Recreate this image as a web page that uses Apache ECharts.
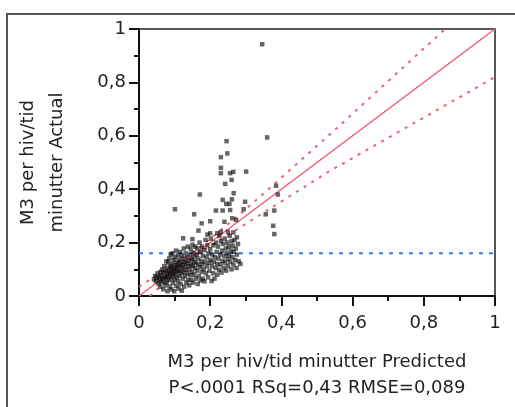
<!DOCTYPE html>
<html>
<head>
<meta charset="utf-8">
<script src="https://cdn.jsdelivr.net/npm/echarts@6/dist/echarts.min.js"></script>
<style>html,body{margin:0;padding:0;background:#fff;}#c{width:515px;height:407px;}</style>
</head>
<body>
<div id="c"></div>
<script>
// Axis ticks
var xTicks = [0, 0.2, 0.4, 0.6, 0.8, 1];
var yTicks = [0, 0.2, 0.4, 0.6, 0.8, 1];

// Actual vs Predicted points [predicted, actual]
var sparsePoints = [
  [0.346,0.943],[0.36,0.594],[0.246,0.58],[0.248,0.534],[0.23,0.52],[0.23,0.48],[0.23,0.46],
  [0.256,0.46],[0.265,0.465],[0.301,0.466],[0.242,0.42],[0.26,0.435],[0.385,0.413],[0.39,0.38],
  [0.171,0.38],[0.266,0.385],[0.235,0.36],[0.261,0.362],[0.298,0.353],[0.245,0.345],[0.254,0.345],
  [0.101,0.325],[0.216,0.32],[0.235,0.32],[0.256,0.322],[0.294,0.325],[0.38,0.32],[0.155,0.306],
  [0.356,0.306],[0.262,0.291],[0.273,0.285],[0.377,0.263],[0.38,0.232],[0.2,0.28],[0.24,0.278],
  [0.176,0.272],[0.167,0.245],[0.124,0.216],[0.192,0.23],[0.2,0.235],[0.23,0.24],[0.25,0.24],
  [0.265,0.238],[0.22,0.235],[0.15,0.213]
];
var clusterPoints = [
  [0.042,0.062],[0.045,0.075],[0.048,0.055],[0.05,0.068],[0.052,0.085],[0.055,0.045],[0.057,0.072],[0.058,0.06],[0.06,0.09],[0.06,0.035],
  [0.062,0.078],[0.063,0.052],[0.065,0.1],[0.066,0.066],[0.068,0.025],[0.069,0.088],[0.07,0.058],[0.071,0.112],[0.072,0.075],[0.074,0.04],[0.075,0.095],[0.076,0.068],[0.077,0.13],[0.078,0.05],[0.079,0.085],[0.08,0.018],[0.08,0.105],
  [0.081,0.072],[0.082,0.125],[0.083,0.06],[0.084,0.092],[0.085,0.14],[0.086,0.035],[0.087,0.08],[0.088,0.11],[0.089,0.155],[0.09,0.065],[0.09,0.098],[0.091,0.025],[0.092,0.12],[0.093,0.085],[0.094,0.16],[0.095,0.048],[0.095,0.105],[0.096,0.075],[0.097,0.135],[0.098,0.092],[0.099,0.018],[0.1,0.115],[0.1,0.06],
  [0.101,0.145],[0.102,0.082],[0.103,0.1],[0.104,0.17],[0.105,0.038],[0.105,0.125],[0.106,0.07],[0.107,0.108],[0.108,0.09],[0.109,0.152],[0.11,0.055],[0.11,0.118],[0.111,0.028],[0.112,0.135],[0.113,0.095],[0.114,0.075],[0.115,0.165],[0.116,0.112],[0.117,0.045],[0.118,0.128],[0.119,0.085],[0.12,0.15],[0.12,0.02],[0.12,0.102],
  [0.122,0.118],[0.123,0.065],[0.124,0.14],[0.125,0.09],[0.126,0.178],[0.127,0.035],[0.128,0.108],[0.129,0.128],[0.13,0.075],[0.131,0.16],[0.132,0.098],[0.133,0.05],[0.134,0.122],[0.135,0.145],[0.136,0.085],[0.137,0.185],[0.138,0.06],[0.139,0.112],[0.14,0.132],
  [0.141,0.04],[0.142,0.1],[0.143,0.155],[0.144,0.078],[0.145,0.175],[0.146,0.118],[0.147,0.06],[0.148,0.138],[0.149,0.09],[0.15,0.192],[0.151,0.112],[0.152,0.05],[0.153,0.162],[0.154,0.128],[0.155,0.08],[0.156,0.145],[0.157,0.105],[0.158,0.185],[0.16,0.065],[0.16,0.125],
  [0.162,0.155],[0.163,0.095],[0.164,0.178],[0.165,0.045],[0.166,0.118],[0.167,0.14],[0.168,0.075],[0.17,0.2],[0.171,0.108],[0.172,0.165],[0.173,0.058],[0.175,0.13],[0.176,0.09],[0.177,0.185],[0.178,0.118],[0.179,0.065],[0.18,0.15],
  [0.182,0.1],[0.183,0.172],[0.184,0.055],[0.185,0.128],[0.187,0.21],[0.188,0.085],[0.19,0.145],[0.191,0.112],[0.192,0.19],[0.194,0.07],[0.195,0.16],[0.197,0.125],[0.198,0.095],[0.2,0.175],
  [0.201,0.135],[0.202,0.215],[0.204,0.056],[0.205,0.112],[0.206,0.155],[0.208,0.085],[0.209,0.19],[0.21,0.128],[0.212,0.065],[0.213,0.145],[0.215,0.105],[0.216,0.2],[0.218,0.165],[0.22,0.12],[0.22,0.08],
  [0.222,0.185],[0.223,0.14],[0.225,0.098],[0.226,0.225],[0.228,0.155],[0.229,0.118],[0.23,0.205],[0.232,0.088],[0.233,0.17],[0.235,0.132],[0.236,0.195],[0.238,0.105],[0.24,0.15],
  [0.241,0.215],[0.242,0.125],[0.244,0.178],[0.245,0.095],[0.246,0.16],[0.248,0.2],[0.249,0.138],[0.25,0.112],[0.252,0.185],[0.253,0.152],[0.255,0.225],[0.256,0.128],[0.258,0.17],[0.26,0.1],[0.26,0.205],
  [0.262,0.145],[0.263,0.188],[0.265,0.118],[0.266,0.165],[0.268,0.21],[0.27,0.135],[0.272,0.178],[0.274,0.105],[0.275,0.155],[0.278,0.195],[0.28,0.13],[0.285,0.12],[0.275,0.22]
];

// Fit line (Actual = Predicted), confidence curves, mean line
var fitLine = [[0,0],[1,1]];
var upperConf = [[0,0.035],[0.165,0.175],[0.3,0.325],[0.532,0.6],[0.86,1.0]];
var lowerConf = [[0.03,0],[0.165,0.158],[0.3,0.27],[0.532,0.465],[1,0.82]];
var meanLine = [[0,0.16],[1,0.16]];

var xTitle = 'M3 per hiv/tid minutter Predicted\nP<.0001 RSq=0,43 RMSE=0,089';
var yTitle = 'M3 per hiv/tid\nminutter Actual';

var FONT = 'DejaVu Sans';
function fmt(v){ return String(Math.round(v*10)/10).replace('.', ','); }

var chart = echarts.init(document.getElementById('c'), null, {renderer:'canvas'});
var axisCommon = {
  type:'value', min:0, max:1, interval:0.2,
  splitLine:{show:false},
  axisLine:{show:true, lineStyle:{color:'#111', width:2}},
  axisTick:{show:true, inside:false, length:10, lineStyle:{color:'#111', width:2}},
  minorTick:{show:true, splitNumber:2, length:5, lineStyle:{color:'#111', width:2}},
  minorSplitLine:{show:false}
};
chart.setOption({
  animation:false,
  backgroundColor:'#fff',
  graphic:[{type:'rect', shape:{x:7,y:14,width:600,height:500}, style:{fill:'none', stroke:'#555', lineWidth:2}, z:0}],
  grid:{left:139, right:20, top:29, bottom:111, show:true, borderColor:'#222', borderWidth:1.5, backgroundColor:'transparent'},
  xAxis:Object.assign({}, axisCommon, {
    axisLabel:{fontFamily:FONT, fontSize:18, color:'#222', margin:18,
      formatter:function(v){ return xTicks.indexOf(Math.round(v*10)/10) >= 0 ? fmt(v) : ''; }},
    name:xTitle, nameLocation:'middle', nameGap:53,
    nameTextStyle:{fontFamily:FONT, fontSize:18, color:'#222', lineHeight:26, verticalAlign:'top'}
  }),
  yAxis:Object.assign({}, axisCommon, {
    axisLabel:{fontFamily:FONT, fontSize:18, color:'#222', margin:13,
      formatter:function(v){ return yTicks.indexOf(Math.round(v*10)/10) >= 0 ? fmt(v) : ''; }},
    name:yTitle, nameLocation:'middle', nameGap:67,
    nameTextStyle:{fontFamily:FONT, fontSize:18, color:'#222', lineHeight:29}
  }),
  series:[
    {type:'line', data:meanLine, showSymbol:false, silent:true, clip:true,
      lineStyle:{color:'#3f74e8', width:2, type:[4,6]}, z:2},
    {type:'line', data:upperConf, showSymbol:false, silent:true, clip:true,
      lineStyle:{color:'#f0606f', width:2, type:[3,6]}, z:2},
    {type:'line', data:lowerConf, showSymbol:false, silent:true, clip:true,
      lineStyle:{color:'#f0606f', width:2, type:[3,6]}, z:2},
    {type:'line', data:fitLine, showSymbol:false, silent:true, clip:true,
      lineStyle:{color:'#f06070', width:1.5}, z:3},
    {type:'scatter', data:sparsePoints.concat(clusterPoints), symbol:'rect', symbolSize:4.5,
      itemStyle:{color:'#000', opacity:0.6}, z:4}
  ]
});
</script>
</body>
</html>
